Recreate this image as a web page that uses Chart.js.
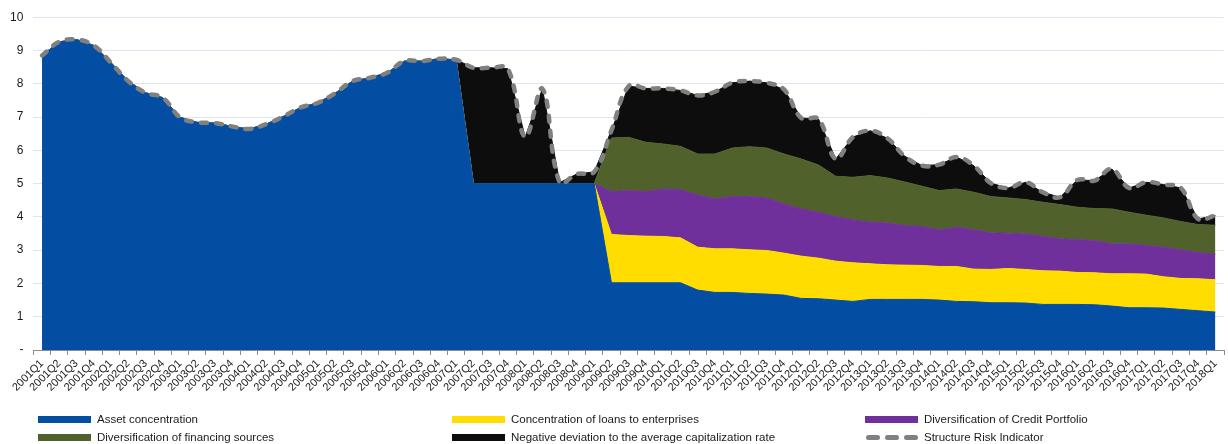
<!DOCTYPE html>
<html>
<head>
<meta charset="utf-8">
<script src="https://cdn.jsdelivr.net/npm/chart.js@4.4.1/dist/chart.umd.min.js"></script>
<style>
  body { margin: 0; background: #fff; font-family: "Liberation Sans", Arial, sans-serif; }
  #wrap { position: relative; width: 1228px; height: 444px; }
  #chart { position: absolute; left: 0; top: 0; }
  .lg { position: absolute; font-size: 11.5px; color: #1a1a1a; white-space: nowrap; line-height: 14px; }
  .sw { position: absolute; width: 53px; height: 7px; }
  .dash { position: absolute; width: 14px; height: 5px; border-radius: 3px; background: #808080; }
</style>
</head>
<body>
<div id="wrap">
  <canvas id="chart" width="1228" height="444"></canvas>
  <div id="legend"></div>
</div>
<script>
// quarters on the category axis
const quarters = [
  '2001Q1','2001Q2','2001Q3','2001Q4','2002Q1','2002Q2','2002Q3','2002Q4',
  '2003Q1','2003Q2','2003Q3','2003Q4','2004Q1','2004Q2','2004Q3','2004Q4',
  '2005Q1','2005Q2','2005Q3','2005Q4','2006Q1','2006Q2','2006Q3','2006Q4',
  '2007Q1','2007Q2','2007Q3','2007Q4','2008Q1','2008Q2','2008Q3','2008Q4',
  '2009Q1','2009Q2','2009Q3','2009Q4','2010Q1','2010Q2','2010Q3','2010Q4',
  '2011Q1','2011Q2','2011Q3','2011Q4','2012Q1','2012Q2','2012Q3','2012Q4',
  '2013Q1','2013Q2','2013Q3','2013Q4','2014Q1','2014Q2','2014Q3','2014Q4',
  '2015Q1','2015Q2','2015Q3','2015Q4','2016Q1','2016Q2','2016Q3','2016Q4',
  '2017Q1','2017Q2','2017Q3','2017Q4','2018Q1'
];

const assetConcentration = [
  8.85, 9.26, 9.33, 9.15, 8.63, 8.08, 7.73, 7.58, 6.99, 6.84, 6.82, 6.72, 6.64,
  6.79, 7.02, 7.29, 7.43, 7.72, 8.08, 8.18, 8.33, 8.68, 8.68, 8.75, 8.72,
  5, 5, 5, 5, 5, 5, 5, 5,
  2.02, 2.02, 2.02, 2.02, 2.02, 1.80, 1.73, 1.73, 1.70, 1.68, 1.65, 1.55, 1.54,
  1.50, 1.46, 1.52, 1.52, 1.52, 1.52, 1.50, 1.46, 1.45, 1.42, 1.42, 1.41, 1.37,
  1.37, 1.37, 1.36, 1.32, 1.27, 1.27, 1.26, 1.22, 1.18, 1.14
];

const loansToEnterprises = [
  0, 0, 0, 0, 0, 0, 0, 0, 0, 0, 0, 0, 0, 0, 0, 0, 0, 0, 0, 0, 0, 0, 0, 0, 0,
  0, 0, 0, 0, 0, 0, 0, 0,
  1.45, 1.42, 1.40, 1.39, 1.35, 1.29, 1.31, 1.31, 1.31, 1.31, 1.26, 1.27, 1.22,
  1.17, 1.16, 1.07, 1.04, 1.03, 1.02, 1.01, 1.05, 0.98, 1.00, 1.03, 1.01, 1.01,
  1.00, 0.96, 0.96, 0.97, 1.02, 1.01, 0.94, 0.93, 0.96, 0.97
];

const creditPortfolio = [
  0, 0, 0, 0, 0, 0, 0, 0, 0, 0, 0, 0, 0, 0, 0, 0, 0, 0, 0, 0, 0, 0, 0, 0, 0,
  0, 0, 0, 0, 0, 0, 0, 0,
  1.29, 1.35, 1.34, 1.43, 1.45, 1.57, 1.50, 1.57, 1.60, 1.58, 1.48, 1.42, 1.38,
  1.34, 1.29, 1.25, 1.26, 1.19, 1.17, 1.10, 1.18, 1.18, 1.10, 1.06, 1.07, 1.04,
  0.97, 0.99, 0.97, 0.90, 0.90, 0.86, 0.89, 0.86, 0.79, 0.77
];

const financingSources = [
  0, 0, 0, 0, 0, 0, 0, 0, 0, 0, 0, 0, 0, 0, 0, 0, 0, 0, 0, 0, 0, 0, 0, 0, 0,
  0, 0, 0, 0, 0, 0, 0, 0,
  1.61, 1.60, 1.48, 1.35, 1.30, 1.23, 1.35, 1.46, 1.50, 1.50, 1.50, 1.50, 1.42,
  1.21, 1.28, 1.40, 1.35, 1.31, 1.21, 1.18, 1.15, 1.13, 1.09, 1.06, 1.03, 1.02,
  1.03, 0.97, 0.96, 1.05, 0.95, 0.91, 0.88, 0.85, 0.84, 0.87
];

const capitalizationGap = [
  0, 0, 0, 0, 0, 0, 0, 0, 0, 0, 0, 0, 0, 0, 0, 0, 0, 0, 0, 0, 0, 0, 0, 0, 0,
  3.48, 3.48, 3.45, 1.40, 2.85, 0.03, 0.29, 0.35,
  0.23, 1.54, 1.62, 1.67, 1.68, 1.76, 1.87, 1.96, 1.97, 1.96, 1.94, 1.23, 1.38,
  0.52, 1.21, 1.35, 1.19, 0.77, 0.62, 0.78, 0.96, 0.80, 0.40, 0.30, 0.52, 0.30,
  0.22, 0.82, 0.84, 1.20, 0.73, 0.99, 1.00, 1.01, 0.17, 0.29
];

const structureRisk = [
  8.85, 9.26, 9.33, 9.15, 8.63, 8.08, 7.73, 7.58, 6.99, 6.84, 6.82, 6.72, 6.64,
  6.79, 7.02, 7.29, 7.43, 7.72, 8.08, 8.18, 8.33, 8.68, 8.68, 8.75, 8.72,
  8.48, 8.48, 8.45, 6.40, 7.85, 5.03, 5.29, 5.35,
  6.60, 7.93, 7.86, 7.86, 7.80, 7.65, 7.76, 8.03, 8.08, 8.03, 7.83, 6.97, 6.94,
  5.74, 6.40, 6.59, 6.36, 5.82, 5.54, 5.57, 5.80, 5.54, 5.01, 4.87, 5.04, 4.74,
  4.59, 5.11, 5.09, 5.44, 4.87, 5.04, 4.97, 4.87, 3.94, 4.04
];

const yTicks = [0, 1, 2, 3, 4, 5, 6, 7, 8, 9, 10];

const COLORS = {
  blue: '#034EA2',
  yellow: '#FFDD00',
  purple: '#70309B',
  green: '#50612B',
  black: '#0D0D0D',
  grey: '#808080'
};

function area(label, data, color, fill) {
  return {
    label, data, fill,
    backgroundColor: color,
    borderColor: color,
    borderWidth: 1,
    pointRadius: 0,
    tension: 0,
    stack: 'parts'
  };
}

const ctx = document.getElementById('chart');
new Chart(ctx, {
  type: 'line',
  data: {
    labels: quarters,
    datasets: [
      area('Asset concentration', assetConcentration, COLORS.blue, 'origin'),
      area('Concentration of loans to enterprises', loansToEnterprises, COLORS.yellow, '-1'),
      area('Diversification of Credit Portfolio', creditPortfolio, COLORS.purple, '-1'),
      area('Diversification of financing sources', financingSources, COLORS.green, '-1'),
      area('Negative deviation to the average capitalization rate', capitalizationGap, COLORS.black, '-1'),
      {
        label: 'Structure Risk Indicator',
        data: structureRisk,
        fill: false,
        borderColor: COLORS.grey,
        borderWidth: 4.5,
        borderDash: [6, 9],
        borderCapStyle: 'round',
        pointRadius: 0,
        tension: 0.4,
        stack: 'total',
        order: -1
      }
    ]
  },
  options: {
    responsive: false,
    animation: false,
    layout: { padding: { left: 0, right: 4, top: 15, bottom: 0 } },
    plugins: { legend: { display: false }, tooltip: { enabled: false } },
    scales: {
      x: {
        offset: true,
        grid: { display: true, drawOnChartArea: false, offset: true, tickLength: 5, color: '#8c8c8c' },
        border: { display: true, color: '#8c8c8c', width: 1 },
        ticks: {
          autoSkip: false, minRotation: 45, maxRotation: 45,
          color: '#1a1a1a', padding: 2,
          font: { family: 'Liberation Sans', size: 11 }
        },
        afterFit: (s) => { s.height = 94; }
      },
      y: {
        stacked: true,
        min: 0, max: 10,
        afterBuildTicks: (s) => { s.ticks = yTicks.map(v => ({ value: v })); },
        grid: { color: '#DCE5F1', drawTicks: false },
        border: { display: false },
        ticks: {
          padding: 10, color: '#1a1a1a',
          font: { family: 'Liberation Sans', size: 12 },
          callback: (v) => v === 0 ? '-' : v
        },
        afterFit: (s) => { s.width = 33.4; }
      }
    }
  }
});

// legend laid out in three columns like the original
const legendItems = [
  { text: 'Asset concentration', color: COLORS.blue, x: 38, y: 416 },
  { text: 'Concentration of loans to enterprises', color: COLORS.yellow, x: 452, y: 416 },
  { text: 'Diversification of Credit Portfolio', color: COLORS.purple, x: 865, y: 416 },
  { text: 'Diversification of financing sources', color: COLORS.green, x: 38, y: 434 },
  { text: 'Negative deviation to the average capitalization rate', color: COLORS.black, x: 452, y: 434 },
  { text: 'Structure Risk Indicator', dashed: true, x: 865, y: 434 }
];
const legendEl = document.getElementById('legend');
for (const it of legendItems) {
  if (it.dashed) {
    for (let k = 0; k < 3; k++) {
      const d = document.createElement('div');
      d.className = 'dash';
      d.style.left = (it.x + 1 + k * 19) + 'px';
      d.style.top = (it.y + 1) + 'px';
      legendEl.appendChild(d);
    }
  } else {
    const sw = document.createElement('div');
    sw.className = 'sw';
    sw.style.left = it.x + 'px';
    sw.style.top = it.y + 'px';
    sw.style.background = it.color;
    legendEl.appendChild(sw);
  }
  const t = document.createElement('div');
  t.className = 'lg';
  t.textContent = it.text;
  t.style.left = (it.x + 59) + 'px';
  t.style.top = (it.y - 4) + 'px';
  legendEl.appendChild(t);
}
</script>
</body>
</html>
